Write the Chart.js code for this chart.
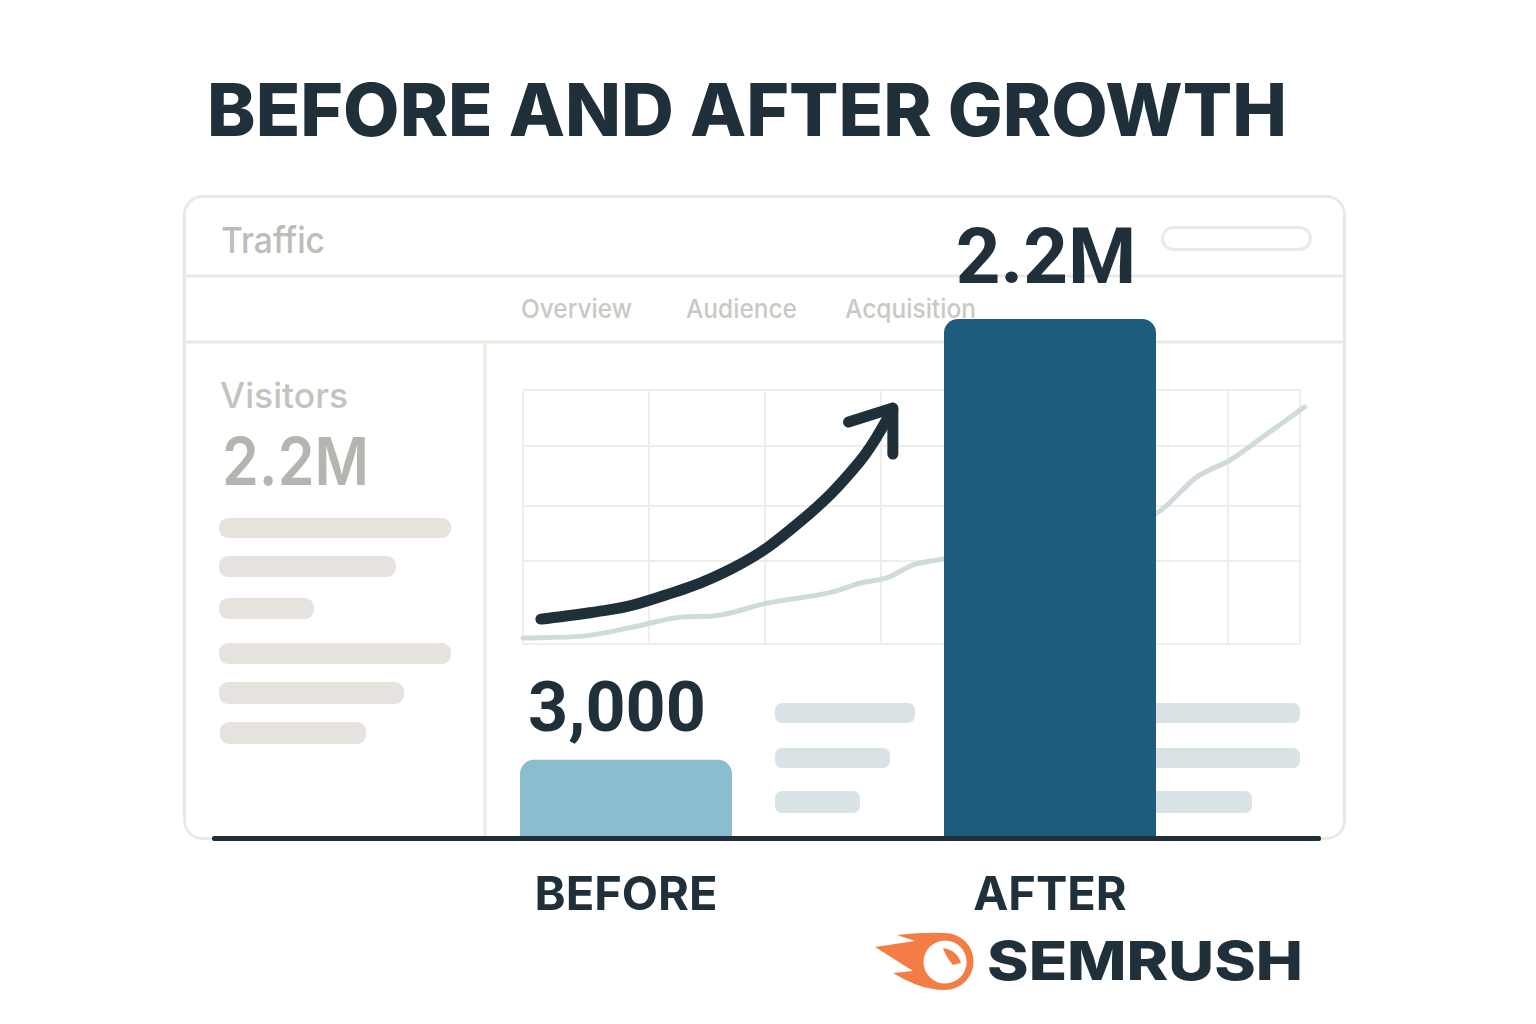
<!DOCTYPE html>
<html>
<head>
<meta charset="utf-8">
<title>Before and after growth</title>
<script src="https://cdn.jsdelivr.net/npm/chart.js@4"></script>
<style>
  html, body { margin: 0; background: #fff; }
  #page { position: relative; width: 1536px; height: 1024px; overflow: hidden; }
  #page svg, #page canvas { position: absolute; }
  #decor { left: 0; top: 0; }
  #insetChart { left: 515px; top: 382px; }
  #barChart { left: 0; top: 0; }
  #front { left: 0; top: 0; }
  text { font-family: Inter, sans-serif; }
</style>
</head>
<body>
<div id="page">
  <!-- the faded dashboard behind the chart -->
  <svg id="decor" width="1536" height="1024">
    <text x="207" y="136" font-size="73" font-weight="800" fill="#20303a" textLength="1080" lengthAdjust="spacingAndGlyphs">BEFORE AND AFTER GROWTH</text>
    <g fill="none" stroke="#ece9e3" stroke-width="3">
      <rect x="184.5" y="196.5" width="1160" height="642" rx="18"/>
      <path d="M185 276H1344M185 342H1344M485 342V836"/>
      <rect x="1162.5" y="227.5" width="148" height="22" rx="11"/>
    </g>
    <text x="221" y="253" font-size="36" font-weight="500" fill="#bdbcb6" textLength="104" lengthAdjust="spacingAndGlyphs">Traffic</text>
    <g font-size="26" font-weight="500" fill="#c9c9c3">
      <text x="521" y="318" textLength="111" lengthAdjust="spacingAndGlyphs">Overview</text>
      <text x="686" y="318" textLength="111" lengthAdjust="spacingAndGlyphs">Audience</text>
      <text x="845" y="318" textLength="131" lengthAdjust="spacingAndGlyphs">Acquisition</text>
    </g>
    <text x="220" y="408" font-size="35" font-weight="500" fill="#c4c3bd" textLength="128" lengthAdjust="spacingAndGlyphs">Visitors</text>
    <text x="222" y="485" font-size="66" font-weight="600" fill="#b5b4ae" textLength="147" lengthAdjust="spacingAndGlyphs">2.2M</text>
    <g fill="#e6e3de">
      <rect x="219" y="518" width="232" height="20" rx="9"/>
      <rect x="219" y="556" width="177" height="21" rx="9"/>
      <rect x="219" y="598" width="95" height="21" rx="9"/>
      <rect x="219" y="643" width="232" height="21" rx="9"/>
      <rect x="219" y="682" width="185" height="22" rx="9"/>
      <rect x="220" y="722" width="146" height="22" rx="9"/>
    </g>
    <g fill="#d9e3e5">
      <rect x="775" y="703" width="140" height="20" rx="7"/>
      <rect x="775" y="748" width="115" height="20" rx="7"/>
      <rect x="775" y="791" width="85" height="22" rx="7"/>
      <rect x="1100" y="703" width="200" height="20" rx="7"/>
      <rect x="1100" y="748" width="200" height="20" rx="7"/>
      <rect x="1100" y="791" width="152" height="22" rx="7"/>
    </g>
  </svg>

  <canvas id="insetChart" width="800" height="270"></canvas>
  <canvas id="barChart" width="1536" height="1024"></canvas>

  <!-- baseline and logo sit on top of the bars -->
  <svg id="front" width="1536" height="1024">
    <rect x="212" y="836" width="1109" height="5" rx="2" fill="#1f2f3a"/>
    <path fill="#f47c45" fill-rule="evenodd" d="M875 947 L915 941 L897 935 Q925 932 945 933 A28.5 28.5 0 0 1 945 990 C925 990 908 982 893 973 L913 971 Z M945 940.5 A21.5 21.5 0 1 0 945.1 983.5 A21.5 21.5 0 1 0 945 940.5 Z"/>
    <path fill="#f47c45" d="M943 948 Q957 950 961 963 L953 965 Q946 957 943 948 Z"/>
    <text x="987" y="980" font-size="54" font-weight="800" fill="#20303a" textLength="316" lengthAdjust="spacingAndGlyphs">SEMRUSH</text>
  </svg>
</div>

<script>
// main bars
const barLabels = ['BEFORE', 'AFTER'];
const barValues = [3000, 2200000];
const barValueLabels = ['3,000', '2.2M'];
const barColors = ['#8bbdcf', '#1d5c7d'];

// faded traffic line in the dashboard
const trafficX = [0, 7.7, 14.2, 20.6, 24.5, 31.4, 39.9, 43.4, 46.8, 50.2, 54.1, 81.6, 86.7, 91, 95.2, 100.6];
const trafficY = [2.4, 3.1, 6.7, 10.6, 11, 16.1, 20.5, 24, 26, 31.1, 33.5, 51.6, 65.7, 72.4, 81.5, 93.3];

// dark growth arrow
const arrowX = [2.3, 8.6, 15.1, 27, 35.6, 43.3, 47.6];
const arrowY = [9.8, 12.3, 16.1, 29.9, 48, 71.7, 92.1];
const arrowHeadX = [41.9, 47.6, 47.6];
const arrowHeadY = [87.4, 92.9, 74.8];

// dashboard grid lines
const gridX = [0, 16.2, 31.1, 46.1, 90.7, 100];
const gridY = [0, 32.7, 54.3, 78, 100];

const DARK = '#20303a';

function toPoints(xs, ys) {
    return xs.map(function (x, i) { return { x: x, y: ys[i] }; });
}

new Chart(document.getElementById('insetChart'), {
    type: 'scatter',
    data: {
        datasets: [
            { data: toPoints(trafficX, trafficY), showLine: true, borderColor: '#cfdadc', borderWidth: 5, cubicInterpolationMode: 'monotone', pointRadius: 0, clip: false, borderCapStyle: 'round' },
            { data: toPoints(arrowX, arrowY), showLine: true, borderColor: DARK, borderWidth: 11, tension: 0.4, pointRadius: 0, clip: false, borderCapStyle: 'round' },
            { data: toPoints(arrowHeadX, arrowHeadY), showLine: true, borderColor: DARK, borderWidth: 11, pointRadius: 0, clip: false, borderCapStyle: 'round', borderJoinStyle: 'round' }
        ]
    },
    options: {
        responsive: false,
        animation: false,
        layout: { padding: { left: 8, right: 15, top: 8, bottom: 8 } },
        plugins: { legend: { display: false }, tooltip: { enabled: false } },
        scales: {
            x: {
                min: 0, max: 100,
                afterBuildTicks: function (scale) { scale.ticks = gridX.map(function (v) { return { value: v }; }); },
                grid: { color: '#f0eeea', lineWidth: 2, drawTicks: false },
                border: { display: false },
                ticks: { display: false }
            },
            y: {
                min: 0, max: 100,
                afterBuildTicks: function (scale) { scale.ticks = gridY.map(function (v) { return { value: v }; }); },
                grid: { color: '#f0eeea', lineWidth: 2, drawTicks: false },
                border: { display: false },
                ticks: { display: false }
            }
        }
    }
});

// labels above the bars
const barLabelPlugin = {
    id: 'barLabelPlugin',
    afterDatasetsDraw: function (chart) {
        const bars = chart.getDatasetMeta(0).data;
        const c = chart.ctx;
        c.save();
        c.fillStyle = DARK;
        c.textAlign = 'center';
        c.textBaseline = 'alphabetic';
        c.font = '700 70px Roboto, sans-serif';
        c.fillText(barValueLabels[0], bars[0].x - 9, bars[0].y - 29);
        c.font = '700 78px Roboto, sans-serif';
        c.fillText(barValueLabels[1], bars[1].x - 4, bars[1].y - 36);
        c.restore();
    }
};

new Chart(document.getElementById('barChart'), {
    type: 'bar',
    data: {
        labels: barLabels,
        datasets: [{
            data: barValues,
            backgroundColor: barColors,
            barPercentage: 0.5,
            categoryPercentage: 1,
            borderSkipped: 'bottom',
            borderRadius: { topLeft: 14, topRight: 14 }
        }]
    },
    options: {
        responsive: false,
        animation: false,
        layout: { padding: { left: 414, right: 274, top: 319, bottom: 88 } },
        plugins: { legend: { display: false }, tooltip: { enabled: false } },
        scales: {
            x: {
                afterFit: function (scale) { scale.height = 100; },
                grid: { display: false },
                border: { display: false },
                ticks: { color: DARK, font: { family: 'Inter, sans-serif', size: 47, weight: '700' }, padding: 24, maxRotation: 0 }
            },
            y: { type: 'logarithmic', min: 960, max: 2200000, display: false }
        }
    },
    plugins: [barLabelPlugin]
});
</script>
</body>
</html>
